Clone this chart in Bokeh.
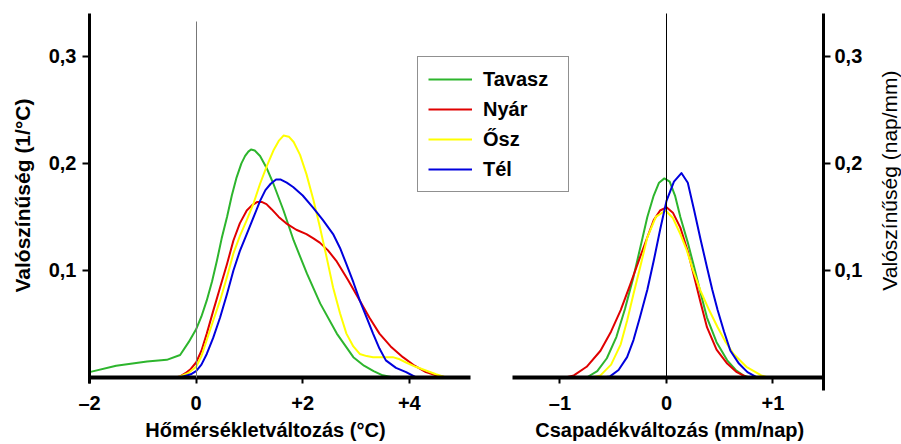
import math
from bokeh.plotting import figure
from bokeh.models import (Range1d, LinearAxis, FixedTicker, CustomJSTickFormatter,
                          Legend, LegendItem, Label)
from bokeh.embed import file_html
from bokeh.resources import INLINE

# ---------------- data ----------------
seasons = ["Tavasz", "Nyár", "Ősz", "Tél"]
colors = ["#2db52d", "#e00000", "#ffff00", "#0000dd"]

# temperature change (°C) densities
t_tavasz_x = [-2.0, -1.5, -0.92, -0.55, -0.3, -0.14, 0.0, 0.1, 0.2, 0.3, 0.39, 0.48, 0.58, 0.67, 0.76, 0.85, 0.92, 0.98, 1.03, 1.1, 1.2, 1.32, 1.45, 1.64, 1.83, 2.08, 2.33, 2.64, 2.95, 3.15, 3.33, 3.5, 3.7]
t_tavasz_y = [0.005, 0.011, 0.015, 0.0165, 0.021, 0.033, 0.045, 0.057, 0.072, 0.090, 0.109, 0.130, 0.150, 0.170, 0.187, 0.200, 0.207, 0.211, 0.213, 0.212, 0.207, 0.196, 0.181, 0.156, 0.128, 0.097, 0.069, 0.041, 0.019, 0.011, 0.006, 0.002, 0.0]

t_nyar_x = [-0.4, -0.3, -0.2, -0.1, 0.0, 0.1, 0.2, 0.32, 0.45, 0.58, 0.7, 0.82, 0.95, 1.05, 1.15, 1.23, 1.32, 1.42, 1.55, 1.69, 1.88, 2.07, 2.2, 2.32, 2.47, 2.63, 2.85, 3.07, 3.25, 3.44, 3.65, 3.88, 4.1, 4.31, 4.5, 4.69]
t_nyar_y = [0.0, 0.001, 0.004, 0.008, 0.014, 0.025, 0.041, 0.062, 0.084, 0.106, 0.128, 0.144, 0.156, 0.161, 0.164, 0.164, 0.162, 0.157, 0.150, 0.144, 0.138, 0.134, 0.130, 0.126, 0.119, 0.109, 0.091, 0.072, 0.056, 0.041, 0.029, 0.019, 0.011, 0.005, 0.002, 0.0]

t_osz_x = [-0.35, -0.15, 0.0, 0.1, 0.2, 0.32, 0.45, 0.58, 0.7, 0.82, 0.95, 1.08, 1.2, 1.33, 1.45, 1.55, 1.64, 1.74, 1.83, 1.95, 2.07, 2.2, 2.32, 2.45, 2.57, 2.7, 2.82, 2.95, 3.07, 3.2, 3.32, 3.5, 3.69, 3.82, 3.94, 4.12, 4.31, 4.5, 4.69]
t_osz_y = [0.0, 0.004, 0.010, 0.020, 0.035, 0.053, 0.072, 0.094, 0.116, 0.132, 0.147, 0.163, 0.181, 0.198, 0.212, 0.221, 0.226, 0.225, 0.220, 0.208, 0.190, 0.166, 0.141, 0.112, 0.084, 0.060, 0.041, 0.029, 0.022, 0.020, 0.019, 0.019, 0.019, 0.017, 0.014, 0.010, 0.0065, 0.003, 0.0]

t_tel_x = [-0.3, -0.1, 0.0, 0.1, 0.2, 0.32, 0.45, 0.58, 0.7, 0.82, 0.95, 1.08, 1.2, 1.3, 1.4, 1.5, 1.58, 1.7, 1.82, 2.0, 2.19, 2.38, 2.57, 2.7, 2.82, 2.95, 3.07, 3.2, 3.32, 3.44, 3.56, 3.75, 3.94, 4.13]
t_tel_y = [0.0, 0.003, 0.006, 0.012, 0.022, 0.037, 0.056, 0.078, 0.100, 0.118, 0.134, 0.150, 0.165, 0.175, 0.181, 0.185, 0.185, 0.182, 0.178, 0.170, 0.159, 0.147, 0.134, 0.121, 0.106, 0.089, 0.072, 0.056, 0.041, 0.027, 0.016, 0.009, 0.005, 0.0]

# precipitation change (mm/nap) densities
p_tavasz_x = [-0.75, -0.65, -0.56, -0.47, -0.39, -0.31, -0.24, -0.18, -0.12, -0.07, -0.02, 0.03, 0.08, 0.13, 0.2, 0.26, 0.32, 0.38, 0.47, 0.57, 0.65, 0.72, 0.78]
p_tavasz_y = [0.0, 0.006, 0.018, 0.038, 0.064, 0.094, 0.124, 0.150, 0.170, 0.182, 0.186, 0.183, 0.170, 0.150, 0.126, 0.103, 0.079, 0.056, 0.033, 0.016, 0.007, 0.002, 0.0]

p_nyar_x = [-0.95, -0.87, -0.75, -0.62, -0.52, -0.43, -0.34, -0.25, -0.18, -0.12, -0.06, 0.0, 0.06, 0.13, 0.2, 0.26, 0.32, 0.38, 0.47, 0.57, 0.66, 0.76]
p_nyar_y = [0.0, 0.002, 0.010, 0.025, 0.043, 0.063, 0.087, 0.112, 0.131, 0.147, 0.156, 0.159, 0.154, 0.140, 0.118, 0.094, 0.070, 0.047, 0.026, 0.013, 0.005, 0.0]

p_osz_x = [-0.7, -0.62, -0.52, -0.43, -0.37, -0.31, -0.24, -0.18, -0.1, -0.01, 0.06, 0.13, 0.19, 0.25, 0.32, 0.4, 0.48, 0.55, 0.63, 0.75, 0.89, 0.95]
p_osz_y = [0.0, 0.002, 0.012, 0.031, 0.053, 0.078, 0.106, 0.131, 0.150, 0.156, 0.149, 0.134, 0.119, 0.100, 0.081, 0.063, 0.047, 0.034, 0.022, 0.010, 0.002, 0.0]

p_tel_x = [-0.6, -0.53, -0.45, -0.37, -0.31, -0.25, -0.18, -0.12, -0.06, 0.0, 0.07, 0.14, 0.2, 0.26, 0.32, 0.38, 0.43, 0.48, 0.54, 0.60, 0.68, 0.76, 0.85]
p_tel_y = [0.0, 0.001, 0.007, 0.019, 0.035, 0.056, 0.082, 0.109, 0.138, 0.165, 0.183, 0.191, 0.182, 0.156, 0.129, 0.103, 0.082, 0.063, 0.043, 0.025, 0.013, 0.005, 0.0]

temp_ticks = [-2, 0, 2, 4]
precip_ticks = [-1, 0, 1]
prob_ticks = [0.1, 0.2, 0.3]

temp_series = [(t_tavasz_x, t_tavasz_y), (t_nyar_x, t_nyar_y), (t_osz_x, t_osz_y), (t_tel_x, t_tel_y)]
precip_series = [(p_tavasz_x, p_tavasz_y), (p_nyar_x, p_nyar_y), (p_osz_x, p_osz_y), (p_tel_x, p_tel_y)]

# panel extents (data units)
TEMP_MIN, TEMP_MAX = -2.0, 5.15
PREC_MIN, PREC_MAX = -1.446, 1.474
PROB_MAX = 0.34

# ---------------- figure ----------------
FONT = "Liberation Sans"

p = figure(width=901, height=444,
           x_range=Range1d(-3.6698, 13.234), y_range=Range1d(-0.0626, 0.3522),
           output_backend="svg", toolbar_location=None, title=None,
           x_axis_location=None, y_axis_location=None,
           min_border=0)
p.extra_x_ranges = {"precip": Range1d(-6.2535, 2.2066)}
p.outline_line_color = None
p.xgrid.visible = False
p.ygrid.visible = False
p.background_fill_color = "white"
p.border_fill_color = "white"

SIGN_JS = """
if (tick > 0) { return '+' + tick; }
if (tick < 0) { return '\\u2013' + Math.abs(tick); }
return '0';
"""
COMMA_JS = "return tick.toFixed(1).replace('.', ',');"


def style_axis(ax, line_w, tick_out, standoff):
    ax.axis_line_width = line_w
    ax.axis_line_color = "black"
    ax.major_tick_line_width = 2
    ax.major_tick_line_color = "black"
    ax.major_tick_out = tick_out
    ax.major_tick_in = 0
    ax.minor_tick_line_color = None
    ax.major_label_text_font = FONT
    ax.major_label_text_font_size = "20px"
    ax.major_label_text_font_style = "bold"
    ax.major_label_text_color = "black"
    ax.major_label_standoff = standoff


# zero reference lines (drawn as bare axes)
z1 = LinearAxis(fixed_location=0, bounds=(0, 0.333), ticker=FixedTicker(ticks=[]))
z1.axis_line_color = "#777777"
z1.axis_line_width = 1
p.add_layout(z1, "left")
z2 = LinearAxis(x_range_name="precip", fixed_location=0, bounds=(0, PROB_MAX),
                ticker=FixedTicker(ticks=[]))
z2.axis_line_color = "black"
z2.axis_line_width = 1
p.add_layout(z2, "left")

# temperature x axis
xa = LinearAxis(fixed_location=0, bounds=(TEMP_MIN, TEMP_MAX),
                ticker=FixedTicker(ticks=temp_ticks),
                formatter=CustomJSTickFormatter(code=SIGN_JS))
style_axis(xa, 4, 6, 9)
p.add_layout(xa, "below")

# precipitation x axis
xa2 = LinearAxis(x_range_name="precip", fixed_location=0, bounds=(PREC_MIN, PREC_MAX),
                 ticker=FixedTicker(ticks=precip_ticks),
                 formatter=CustomJSTickFormatter(code=SIGN_JS))
style_axis(xa2, 4, 6, 9)
p.add_layout(xa2, "below")

# left y axis
ya = LinearAxis(fixed_location=TEMP_MIN, bounds=(-0.006, PROB_MAX),
                ticker=FixedTicker(ticks=prob_ticks),
                formatter=CustomJSTickFormatter(code=COMMA_JS))
style_axis(ya, 3, 7, 6)
p.add_layout(ya, "left")

# right y axis
ya2 = LinearAxis(x_range_name="precip", fixed_location=PREC_MAX, bounds=(-0.012, PROB_MAX),
                 ticker=FixedTicker(ticks=prob_ticks),
                 formatter=CustomJSTickFormatter(code=COMMA_JS))
style_axis(ya2, 3, 7, 4)
p.add_layout(ya2, "right")

# curves
items = []
for name, col, (xs, ys) in zip(seasons, colors, temp_series):
    r = p.line(xs, ys, line_color=col, line_width=2, line_join="round")
    items.append(LegendItem(label=name, renderers=[r]))
for name, col, (xs, ys) in zip(seasons, colors, precip_series):
    p.line(xs, ys, line_color=col, line_width=2, line_join="round", x_range_name="precip")

legend = Legend(items=items, location=(417, 252), orientation="vertical",
                border_line_color="#222222", border_line_width=1.5,
                background_fill_color="white", background_fill_alpha=1.0,
                padding=10, spacing=6, margin=0,
                glyph_width=44, glyph_height=20, label_standoff=11,
                label_width=75, label_height=24,
                label_text_font=FONT, label_text_font_size="20px",
                label_text_font_style="bold", label_text_color="black")
p.add_layout(legend)

# axis titles
title_style = dict(text_font=FONT, text_font_size="20px", text_font_style="bold",
                   text_color="black")
p.add_layout(Label(x=1.3, y=0, y_offset=-53, text="Hőmérsékletváltozás (°C)",
                   text_align="center", text_baseline="alphabetic", **title_style))
p.add_layout(Label(x=0.03, y=0, y_offset=-53, x_range_name="precip",
                   text="Csapadékváltozás (mm/nap)",
                   text_align="center", text_baseline="alphabetic", **title_style))
p.add_layout(Label(x=TEMP_MIN, y=0.17, x_offset=-67, text="Valószínűség (1/°C)",
                   angle=math.pi / 2, text_align="center", text_baseline="middle",
                   text_font=FONT, text_font_size="21px", text_font_style="bold",
                   text_color="black"))
p.add_layout(Label(x=PREC_MAX, y=0.184, x_offset=66, x_range_name="precip",
                   text="Valószínűség (nap/mm)", angle=math.pi / 2,
                   text_align="center", text_baseline="middle",
                   text_font=FONT, text_font_size="21px", text_font_style="normal",
                   text_color="black"))

open("out.html", "w").write(file_html(p, INLINE))
